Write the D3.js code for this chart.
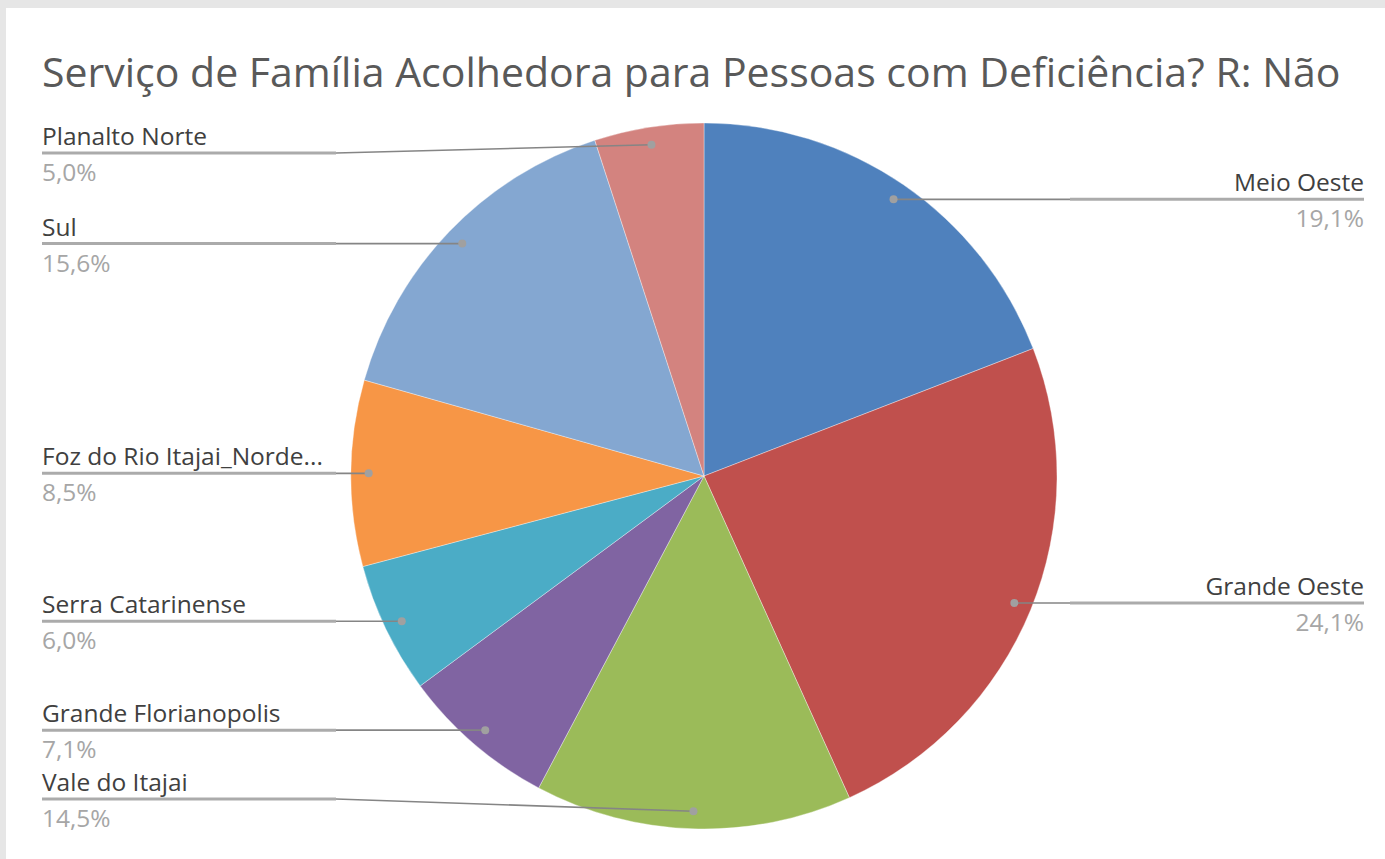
<!DOCTYPE html>
<html>
<head>
<meta charset="utf-8">
<script src="https://cdn.jsdelivr.net/npm/d3@7"></script>
<style>
  html, body { margin: 0; padding: 0; background: #e6e6e6; }
  svg { display: block; }
  text { font-family: "Open Sans", "Noto Sans", sans-serif; }
</style>
</head>
<body>
<svg id="chart" width="1385" height="859"></svg>
<script>
// slices, clockwise from 12 o'clock
var regions = ["Meio Oeste", "Grande Oeste", "Vale do Itajai", "Grande Florianopolis",
  "Serra Catarinense", "Foz do Rio Itajai_Norde...", "Sul", "Planalto Norte"];
var shares = [19.1, 24.1, 14.5, 7.1, 6.0, 8.5, 15.6, 5.0];
var colors = ["#4f81bd", "#c0504d", "#9bbb59", "#8064a2",
  "#4bacc6", "#f79646", "#84a7d1", "#d3837f"];
var title = "Serviço de Família Acolhedora para Pessoas com Deficiência? R: Não";

var W = 1385, H = 859,
  cx = 704, cy = 476, R = 353,
  leftX = 42, rightX = 1364, labelW = 294,
  minY = 153, maxY = 799;

var svg = d3.select("#chart");
var ptBR = d3.formatLocale({decimal: ",", thousands: ".", grouping: [3], currency: ["R$", ""]});
var fmt = ptBR.format(".1f");

svg.append("rect").attr("x", 6).attr("y", 8).attr("width", W - 6).attr("height", H - 8)
  .attr("fill", "#fff");

svg.append("text").attr("x", leftX).attr("y", 87)
  .attr("font-size", 41).attr("fill", "#595959")
  .text(title);

var data = regions.map(function(r, i) {
  return {name: r, value: shares[i], color: colors[i]};
});

var pie = d3.pie().sort(null).value(function(d) { return d.value; });
var arc = d3.arc().innerRadius(0).outerRadius(R);
var dotArc = d3.arc().innerRadius(R * 0.95).outerRadius(R * 0.95);

var g = svg.append("g").attr("transform", "translate(" + cx + "," + cy + ")");
var arcs = pie(data);

g.selectAll("path.slice").data(arcs).enter().append("path")
  .attr("class", "slice")
  .attr("d", arc)
  .attr("fill", function(d) { return d.data.color; })
  .attr("stroke", "rgba(255,255,255,0.35)")
  .attr("stroke-width", 1);

var labels = arcs.map(function(d) {
  var p = dotArc.centroid(d);
  var mid = (d.startAngle + d.endAngle) / 2;
  var right = mid < Math.PI;
  var y = Math.max(minY, Math.min(maxY, cy + p[1]));
  return {d: d, px: cx + p[0], py: cy + p[1], right: right, y: y};
});

var lab = svg.selectAll("g.lab").data(labels).enter().append("g").attr("class", "lab");

// underline below the label
lab.append("line")
  .attr("x1", function(l) { return l.right ? rightX - labelW : leftX; })
  .attr("x2", function(l) { return l.right ? rightX : leftX + labelW; })
  .attr("y1", function(l) { return l.y; })
  .attr("y2", function(l) { return l.y; })
  .attr("stroke", "#ababab").attr("stroke-width", 3);

// connector to the slice
lab.append("line")
  .attr("x1", function(l) { return l.right ? rightX - labelW : leftX + labelW; })
  .attr("x2", function(l) { return l.px; })
  .attr("y1", function(l) { return l.y; })
  .attr("y2", function(l) { return l.py; })
  .attr("stroke", "#858585").attr("stroke-width", 1.6);

lab.append("circle")
  .attr("cx", function(l) { return l.px; })
  .attr("cy", function(l) { return l.py; })
  .attr("r", 4).attr("fill", "#a0a0a0");

lab.append("text")
  .attr("x", function(l) { return l.right ? rightX : leftX; })
  .attr("y", function(l) { return l.y - 8; })
  .attr("text-anchor", function(l) { return l.right ? "end" : "start"; })
  .attr("font-size", 24.5).attr("fill", "#404040")
  .text(function(l) { return l.d.data.name; });

lab.append("text")
  .attr("x", function(l) { return l.right ? rightX : leftX; })
  .attr("y", function(l) { return l.y + 28; })
  .attr("text-anchor", function(l) { return l.right ? "end" : "start"; })
  .attr("font-size", 24.5).attr("fill", "#a6a6a6")
  .text(function(l) { return fmt(l.d.data.value) + "%"; });
</script>
</body>
</html>
